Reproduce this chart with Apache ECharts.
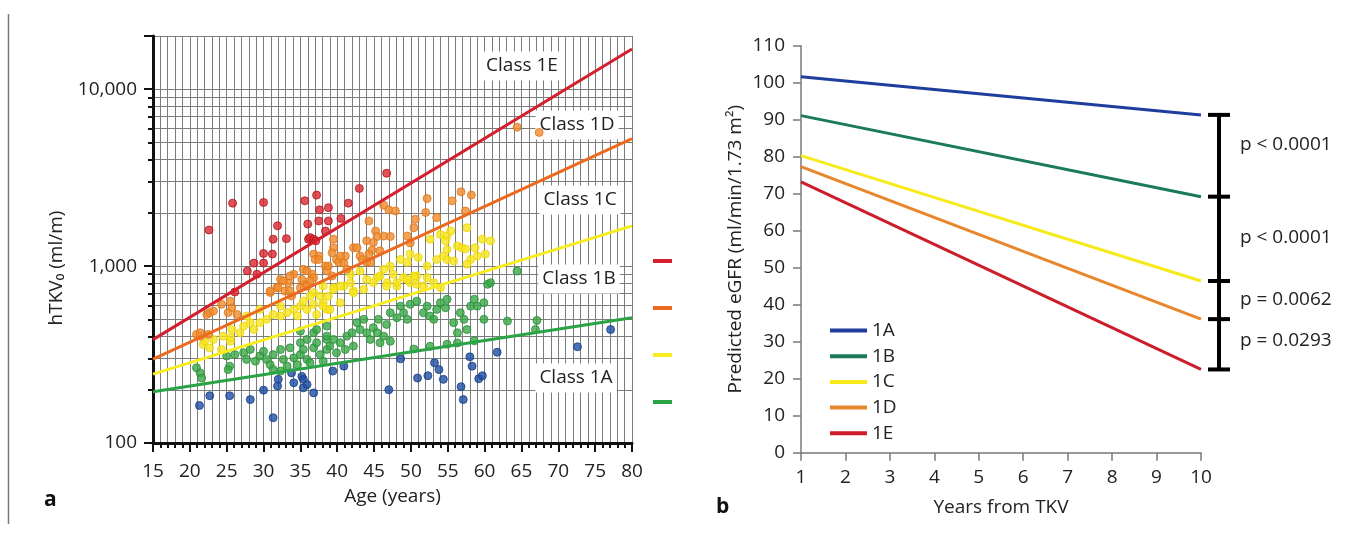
<!DOCTYPE html>
<html>
<head>
<meta charset="utf-8">
<title>hTKV classes and predicted eGFR</title>
<script src="https://cdn.jsdelivr.net/npm/echarts@6/dist/echarts.min.js"></script>
<style>
  html, body { margin: 0; padding: 0; background: #fff; }
  #main { width: 1357px; height: 534px; }
</style>
</head>
<body>
<div id="main"></div>
<script>
  // ---- panel a: hTKV0 by age, points per class as [age, ml/m] ----
  const points1A = [[21.3,163],[22.7,185],[25.4,185],[28.2,176],[30.0,199],[31.3,139],[32.0,229],[31.9,210],[33.8,249],[34.1,219],[35.2,238],[35.4,205],[36.8,192],[35.4,229],[35.9,214],[39.4,255],[40.9,272],[47.0,200],[48.6,299],[50.9,233],[52.3,240],[53.2,284],[53.8,260],[54.4,229],[56.8,208],[57.1,176],[58.0,307],[58.3,272],[59.2,231],[59.7,240],[61.7,326],[72.6,350],[77.1,438]];
  const points1B = [[20.9,266],[21.4,249],[21.6,233],[25.0,310],[25.4,272],[25.2,260],[26.1,316],[27.3,324],[28.2,338],[27.7,297],[28.9,290],[29.5,310],[30.0,330],[30.4,297],[30.9,277],[31.3,316],[32.3,338],[31.3,260],[32.3,255],[33.2,272],[32.7,297],[34.1,303],[34.6,277],[35.0,316],[35.4,338],[35.9,297],[36.3,284],[36.8,345],[37.2,369],[37.7,316],[38.1,290],[38.6,338],[38.6,385],[36.8,420],[35.9,385],[35.0,369],[33.6,345],[38.6,402],[39.0,353],[39.9,324],[39.5,385],[40.4,369],[41.3,402],[41.1,338],[42.2,353],[42.0,420],[42.7,479],[43.1,438],[43.6,500],[44.0,420],[44.5,385],[44.9,449],[45.4,420],[45.8,369],[46.3,402],[45.6,500],[46.7,468],[47.2,545],[47.2,376],[48.1,511],[48.6,594],[49.0,545],[49.5,500],[49.9,608],[50.8,634],[51.7,545],[52.2,594],[52.6,522],[53.1,500],[53.5,569],[54.0,621],[54.7,582],[54.9,649],[55.8,479],[56.3,420],[56.7,545],[57.2,500],[57.6,438],[58.1,594],[58.6,649],[59.0,594],[59.9,621],[60.4,789],[59.9,500],[60.8,806],[58.6,378],[56.3,368],[54.9,362],[52.6,352],[50.4,340],[64.4,937],[63.1,489],[67.1,493],[66.9,438],[35.0,429],[37.2,438],[38.6,458]];
  const points1C = [[52.6,1420],[54.0,1510],[54.9,1480],[49.9,1170],[48.6,1090],[49.5,1050],[51.0,1120],[52.2,1000],[53.5,1090],[54.4,1140],[54.9,1240],[47.2,1000],[46.3,960],[47.6,900],[49.0,861],[49.9,806],[50.8,880],[51.7,771],[53.1,806],[54.0,755],[48.1,771],[46.8,806],[45.4,861],[44.0,841],[43.1,937],[41.8,900],[40.9,771],[42.2,723],[39.5,755],[38.1,771],[36.8,708],[55.4,1580],[54.7,1390],[56.3,1300],[56.9,1270],[57.4,1250],[58.7,1270],[59.7,1420],[60.8,1390],[59.0,1140],[60.1,1170],[58.1,1090],[57.6,1024],[55.8,1070],[54.9,1090],[57.6,1650],[21.8,360],[23.2,385],[24.5,402],[25.5,376],[25.7,438],[27.3,458],[28.2,479],[28.7,438],[29.5,479],[30.4,500],[31.3,533],[32.3,522],[33.2,545],[34.1,569],[34.6,522],[35.0,594],[35.9,569],[36.8,608],[37.2,533],[38.1,621],[38.6,569],[38.8,677],[37.7,677],[36.3,677],[35.4,634],[32.3,594],[29.5,569],[27.7,522],[26.8,420],[22.7,345],[39.5,739],[40.4,771],[41.8,806],[42.2,708],[43.6,739],[44.9,806],[45.8,880],[46.7,771],[48.1,806],[49.5,841],[50.4,880],[50.8,789],[52.2,861],[38.1,594],[39.0,569],[40.4,621],[22.0,377],[25.5,394],[24.3,338]];
  const points1D = [[52.2,2410],[46.3,2210],[47.0,2080],[47.9,2050],[52.0,2010],[53.5,1880],[50.6,1840],[44.3,1800],[50.4,1650],[45.2,1580],[45.4,1470],[46.3,1480],[47.2,1470],[44.0,1390],[44.9,1360],[49.5,1480],[39.5,1420],[42.2,1270],[42.7,1270],[45.8,1220],[44.7,1230],[44.3,1170],[49.9,1350],[39.5,1270],[39.3,1190],[39.9,1090],[40.2,1050],[36.8,1170],[37.5,1140],[37.0,1090],[37.5,1090],[41.1,1140],[40.9,1040],[41.3,960],[43.1,1140],[43.4,1090],[44.0,1050],[44.5,1050],[38.4,1000],[38.6,940],[35.4,960],[35.9,940],[36.6,900],[36.8,860],[36.3,825],[35.6,790],[39.3,880],[34.1,900],[35.2,840],[35.9,770],[35.0,755],[32.3,840],[33.4,805],[31.8,755],[30.9,710],[32.9,723],[33.8,678],[21.4,402],[20.9,411],[22.3,533],[22.7,546],[23.2,557],[25.2,546],[25.7,582],[26.4,533],[21.4,420],[22.5,411],[30.9,723],[33.6,723],[24.3,608],[25.5,634],[32.0,755],[32.7,825],[33.6,880],[38.8,1000],[40.4,1140],[56.8,2630],[58.2,2520],[55.6,2340],[57.4,2050],[64.4,6100],[67.4,5700]];
  const points1E = [[25.8,2270],[30.0,2290],[35.6,2340],[22.6,1600],[31.9,1690],[36.0,1730],[31.3,1420],[33.1,1430],[36.1,1420],[30.0,1180],[31.2,1170],[28.7,1040],[30.0,1040],[27.8,940],[29.1,900],[46.7,3350],[43.0,2750],[41.5,2270],[37.2,2520],[37.6,2080],[38.8,2140],[40.5,1860],[38.8,1800],[37.5,1800],[38.4,1580],[36.3,1450],[36.8,1420],[37.1,1390],[26.1,713]];

  // class boundary lines, value at age 15 and at age 80
  const boundaryAges = [15, 80];
  const boundary1A1B = [195, 510];
  const boundary1B1C = [245, 1690];
  const boundary1C1D = [298, 5260];
  const boundary1D1E = [384, 16900];
  const yTicksA = [100, 1000, 10000];
  const classLabels = ['Class 1E', 'Class 1D', 'Class 1C', 'Class 1B', 'Class 1A'];

  // ---- panel b: predicted eGFR at year 1 and year 10 ----
  const classNames = ['1A', '1B', '1C', '1D', '1E'];
  const years = [1, 10];
  const egfr1A = [101.6, 91.3];
  const egfr1B = [91.1, 69.2];
  const egfr1C = [80.3, 46.4];
  const egfr1D = [77.3, 36.1];
  const egfr1E = [73.2, 22.5];
  const pValues = ['p < 0.0001', 'p < 0.0001', 'p = 0.0062', 'p = 0.0293'];

  const font = '"Open Sans", "DejaVu Sans", sans-serif';
  const txt = '#222';
  const gridGray = '#7c7c7c';
  const axisGray = '#7a7a7a';

  const pair = (xs, ys) => xs.map((x, i) => [x, ys[i]]);
  const bracketValues = [egfr1A, egfr1B, egfr1C, egfr1D, egfr1E].map(a => a[1]);

  function scatter(name, data, color, border) {
    return {
      name: name, type: 'scatter', xAxisIndex: 0, yAxisIndex: 0,
      data: data, symbolSize: 8, z: 3,
      itemStyle: { color: color, borderColor: border, borderWidth: 1 }
    };
  }
  function boundary(name, vals, color) {
    return {
      name: name, type: 'line', xAxisIndex: 0, yAxisIndex: 0,
      data: pair(boundaryAges, vals), showSymbol: false, z: 4,
      color: color, lineStyle: { color: color, width: 3 }
    };
  }
  function egfrLine(name, vals, color) {
    return {
      name: name, type: 'line', xAxisIndex: 1, yAxisIndex: 1,
      data: pair(years, vals), showSymbol: false,
      color: color, lineStyle: { color: color, width: 3 }
    };
  }

  const chart = echarts.init(document.getElementById('main'));
  chart.setOption({
    animation: false,
    backgroundColor: '#fff',
    textStyle: { fontFamily: font },
    grid: [
      { left: 153, top: 36, width: 479, height: 407 },
      { left: 801, top: 45.7, width: 400, height: 407 }
    ],
    legend: [
      {
        data: ['Class 1D/1E', 'Class 1C/1D', 'Class 1B/1C', 'Class 1A/1B'],
        left: 648, top: 254, orient: 'vertical', icon: 'rect',
        itemWidth: 19, itemHeight: 4, itemGap: 43, selectedMode: false,
        formatter: () => '', textStyle: { fontSize: 1, lineHeight: 4 }
      },
      {
        data: classNames,
        left: 825, top: 316, orient: 'vertical', icon: 'rect',
        itemWidth: 37, itemHeight: 4, itemGap: 6.7, selectedMode: false,
        textStyle: { fontSize: 19, color: txt, lineHeight: 18, fontFamily: font }
      }
    ],
    xAxis: [
      {
        gridIndex: 0, type: 'value', min: 15, max: 80, interval: 5,
        axisLine: { lineStyle: { color: '#111', width: 3 } },
        axisTick: { length: 9, lineStyle: { color: '#111', width: 2 } },
        minorTick: { show: true, splitNumber: 5, length: 5, lineStyle: { color: '#111', width: 2 } },
        splitLine: { show: true, lineStyle: { color: gridGray, width: 1 } },
        minorSplitLine: { show: true, lineStyle: { color: gridGray, width: 1 } },
        axisLabel: { fontSize: 19, color: txt, margin: 19 },
        name: 'Age (years)', nameLocation: 'middle', nameGap: 44,
        nameTextStyle: { fontSize: 19, color: txt }
      },
      {
        gridIndex: 1, type: 'value', min: 1, max: 10, interval: 1,
        axisLine: { lineStyle: { color: axisGray, width: 1.5 } },
        axisTick: { length: 8, lineStyle: { color: axisGray, width: 1.5 } },
        splitLine: { show: false },
        axisLabel: { fontSize: 19, color: txt, margin: 15 },
        name: 'Years from TKV', nameLocation: 'middle', nameGap: 45,
        nameTextStyle: { fontSize: 19, color: txt }
      }
    ],
    yAxis: [
      {
        gridIndex: 0, type: 'log', logBase: 10, min: 100, max: 20000,
        axisLine: { show: true, lineStyle: { color: '#111', width: 3 } },
        axisTick: { show: true, length: 9, lineStyle: { color: '#111', width: 2 } },
        minorTick: { show: true, splitNumber: 9, length: 5, lineStyle: { color: '#111', width: 2 } },
        splitLine: { show: true, lineStyle: { color: gridGray, width: 1 } },
        minorSplitLine: { show: true, lineStyle: { color: gridGray, width: 1 } },
        axisLabel: {
          fontSize: 19, color: txt, margin: 16,
          formatter: v => yTicksA.indexOf(Math.round(v)) >= 0 ? Math.round(v).toLocaleString('en-US') : ''
        }
      },
      {
        gridIndex: 1, type: 'value', min: 0, max: 110, interval: 10,
        axisLine: { show: true, lineStyle: { color: axisGray, width: 1.5 } },
        axisTick: { show: true, length: 8, lineStyle: { color: axisGray, width: 1.5 } },
        splitLine: { show: false },
        axisLabel: { fontSize: 19, color: txt, margin: 16 },
        name: 'Predicted eGFR (ml/min/1.73 m²)', nameLocation: 'middle', nameGap: 56,
        nameTextStyle: { fontSize: 19, color: txt }
      }
    ],
    series: [
      scatter('1A points', points1A, '#1d4ea3', '#163d86'),
      scatter('1B points', points1B, '#3aa947', '#2c8c3a'),
      scatter('1C points', points1C, '#f7e51a', '#e9d40e'),
      scatter('1D points', points1D, '#f08c2d', '#df7519'),
      scatter('1E points', points1E, '#d9262e', '#b0151d'),
      boundary('Class 1D/1E', boundary1D1E, '#d4202e'),
      boundary('Class 1C/1D', boundary1C1D, '#ec6a1f'),
      boundary('Class 1B/1C', boundary1B1C, '#f7ec1e'),
      boundary('Class 1A/1B', boundary1A1B, '#2aa345'),
      egfrLine('1A', egfr1A, '#1f3d9c'),
      egfrLine('1B', egfr1B, '#1a7a5a'),
      egfrLine('1C', egfr1C, '#f7ea1b'),
      egfrLine('1D', egfr1D, '#e8862c'),
      egfrLine('1E', egfr1E, '#cc1d2b'),
      {
        // bracket joining the year-10 ends of the eGFR lines
        type: 'custom', xAxisIndex: 1, yAxisIndex: 1, clip: false, silent: true, z: 5,
        data: bracketValues.map(v => [10, v]),
        renderItem: function (params, api) {
          const p = api.coord([api.value(0), api.value(1)]);
          const x = p[0] + 18;
          const kids = [{ type: 'line', shape: { x1: x - 11, y1: p[1], x2: x + 11, y2: p[1] },
                          style: { stroke: '#000', lineWidth: 4 } }];
          const next = bracketValues[params.dataIndex + 1];
          if (next !== undefined) {
            const q = api.coord([10, next]);
            kids.push({ type: 'line', shape: { x1: x, y1: p[1], x2: x, y2: q[1] },
                        style: { stroke: '#000', lineWidth: 4 } });
          }
          return { type: 'group', children: kids };
        }
      }
    ],
    graphic: [
      { type: 'line', shape: { x1: 8.5, y1: 14, x2: 8.5, y2: 524 }, style: { stroke: '#777', lineWidth: 1.5 } },
      { type: 'text', x: 44, y: 500, style: { text: 'a', font: 'bold 21px ' + font, fill: '#111', verticalAlign: 'middle' } },
      { type: 'text', x: 716, y: 507, style: { text: 'b', font: 'bold 21px ' + font, fill: '#111', verticalAlign: 'middle' } },
      { type: 'text', x: 57, y: 268, rotation: Math.PI / 2,
        style: { text: 'hTKV₀ (ml/m)', font: '19px ' + font, fill: txt, align: 'center', verticalAlign: 'middle' } },
      // class labels inside panel a
      ...[[522, 66], [577, 125], [580, 200], [579, 279], [576, 378]].map((pos, i) => ({
        type: 'text', x: pos[0], y: pos[1], z: 1,
        style: { text: classLabels[i], font: '19px ' + font, fill: txt, align: 'center', verticalAlign: 'middle',
                 backgroundColor: '#fff', padding: [5, 4] }
      })),
      // p-values next to the bracket
      ...[145, 238, 300, 341].map((y, i) => ({
        type: 'text', x: 1240, y: y,
        style: { text: pValues[i], font: '19px ' + font, fill: txt, verticalAlign: 'middle' }
      }))
    ]
  });
</script>
</body>
</html>
